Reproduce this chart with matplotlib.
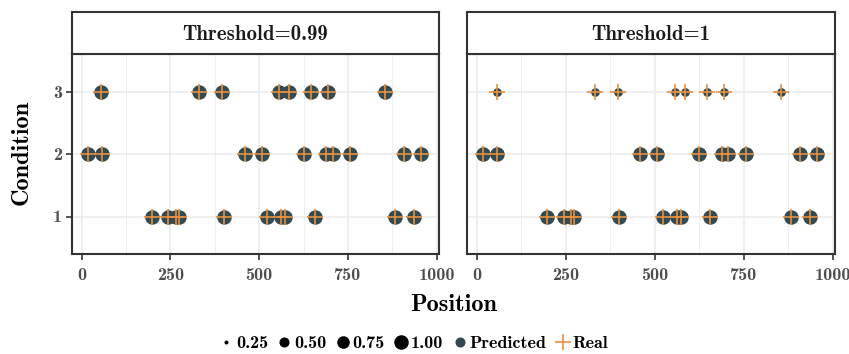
import matplotlib
matplotlib.use("Agg")
import matplotlib.pyplot as plt
from matplotlib.lines import Line2D
import numpy as np

# positions of the events for each condition (same in both panels)
pos_cond1 = [199, 244, 265, 273, 400, 523, 562, 574, 656, 883, 937]
pos_cond2 = [17, 57, 459, 507, 625, 688, 707, 756, 909, 956]
pos_cond3 = [56, 332, 396, 557, 585, 647, 694, 855]

thresholds = ["Threshold=0.99", "Threshold=1"]
# predicted probability per condition for each panel
prob_099 = {1: 1.0, 2: 1.0, 3: 1.0}
prob_1 = {1: 1.0, 2: 1.0, 3: 0.4}

size_breaks = [0.25, 0.50, 0.75, 1.00]

col_pred = "#344a51"
col_real = "#e8903e"
grid_col = "#ebebeb"
edge_col = "#333333"
tick_txt = "#4d4d4d"

plt.rcParams["font.family"] = ["cmb10", "DejaVu Serif"]
plt.rcParams["axes.unicode_minus"] = False


def diam(v):
    # area-ish mapping like ggplot scale_size, returns points
    px = 4 + 10.5 * np.sqrt((v - 0.25) / 0.75)
    return px * 72 / 100


fig = plt.figure(figsize=(8.49, 3.54), dpi=100)

W, H = 849, 354
panels = [(72, 438.5), (467, 834.5)]
top, bot = 54, 254
strip_top = 12

positions = {1: pos_cond1, 2: pos_cond2, 3: pos_cond3}
probs = [prob_099, prob_1]

for i, (x0, x1) in enumerate(panels):
    ax = fig.add_axes([x0 / W, 1 - bot / H, (x1 - x0) / W, (bot - top) / H])
    ax.set_xlim(-27, 1005)
    ax.set_ylim(0.4, 3.6)
    ax.set_xticks([0, 250, 500, 750, 1000])
    ax.set_xticks([125, 375, 625, 875], minor=True)
    ax.set_yticks([1, 2, 3])
    ax.grid(True, which="major", color=grid_col, lw=1.1, zorder=0)
    ax.grid(True, which="minor", axis="x", color=grid_col, lw=0.6, zorder=0)
    ax.set_axisbelow(True)
    for s in ax.spines.values():
        s.set_color(edge_col)
        s.set_linewidth(1.5)
    ax.tick_params(which="major", length=4, width=1.2, color=edge_col,
                   labelsize=13, labelcolor=tick_txt, pad=3)
    ax.tick_params(axis="x", pad=6)
    ax.tick_params(which="minor", length=0)
    if i == 1:
        ax.tick_params(axis="y", length=0, labelleft=False)
    for c in [1, 2, 3]:
        xs = positions[c]
        ys = [c] * len(xs)
        ax.plot(xs, ys, "o", ms=diam(probs[i][c]), color=col_pred, mew=0, zorder=3)
        ax.plot(xs, ys, "+", ms=12, mew=1.2, color=col_real, zorder=4)

    # strip on top
    sx = fig.add_axes([x0 / W, 1 - top / H, (x1 - x0) / W, (top - strip_top) / H])
    sx.set_xticks([])
    sx.set_yticks([])
    for s in sx.spines.values():
        s.set_color(edge_col)
        s.set_linewidth(1.5)
    sx.text(0.5, 0.46, thresholds[i], ha="center", va="center", fontsize=15,
            color="#1a1a1a", transform=sx.transAxes)

fig.text(453.5 / W, 1 - 305 / H, "Position", ha="center", va="center", fontsize=17.5)
fig.text(22 / W, 1 - 152 / H, "Condition", ha="center", va="center",
         fontsize=17.5, rotation=90)

handles = []
labels = []
for v in size_breaks:
    handles.append(Line2D([], [], ls="", marker="o", ms=diam(v), color="black", mew=0))
    labels.append(f"{v:.2f}")
handles.append(Line2D([], [], ls="", marker="o", ms=diam(0.5), color=col_pred, mew=0))
labels.append("Predicted")
handles.append(Line2D([], [], ls="", marker="+", ms=12, mew=1.2, color=col_real))
labels.append("Real")

fig.legend(handles, labels, loc="center", bbox_to_anchor=(413 / W, 1 - 343 / H),
           ncol=6, frameon=False, fontsize=13, handletextpad=0.1,
           columnspacing=0.45, handlelength=0.9, borderpad=0)

fig.savefig("out.png", dpi=100)
